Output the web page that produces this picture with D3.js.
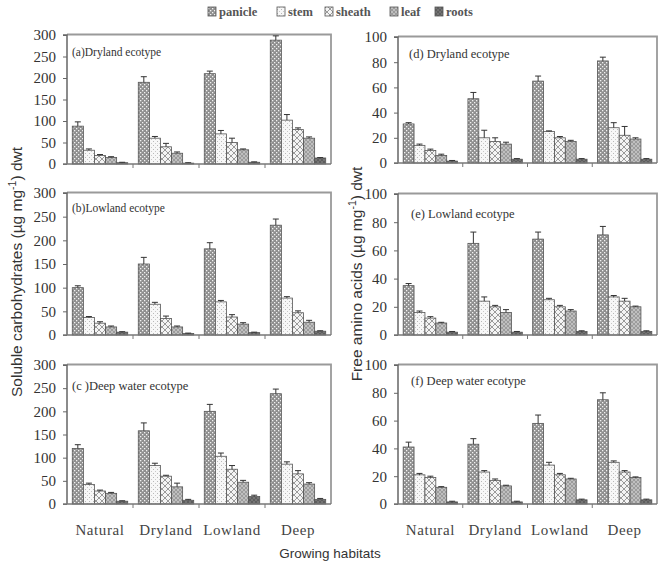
<!DOCTYPE html>
<html><head><meta charset="utf-8">
<script src="https://cdn.jsdelivr.net/npm/d3@7"></script>
<style>
html,body{margin:0;padding:0;background:#fff;}
svg{display:block;}
</style></head>
<body>
<svg id="chart" width="658" height="562"></svg>
<script>
const categories = ["Natural", "Dryland", "Lowland", "Deep"];
const seriesNames = ["panicle", "stem", "sheath", "leaf", "roots"];

const carbTicks = [0, 50, 100, 150, 200, 250, 300];
const aminoTicks = [0, 20, 40, 60, 80, 100];

// Soluble carbohydrates — rows = categories, cols = series
const carbDryland = [[88, 32, 20, 15, 3], [190, 60, 40, 25, 2], [210, 70, 50, 33, 4], [288, 102, 80, 60, 14]];
const carbDrylandErr = [[10, 3, 2, 2, 1], [13, 4, 8, 3, 1], [6, 8, 10, 2, 1], [10, 13, 4, 3, 1]];
const carbLowland = [[100, 37, 25, 17, 6], [150, 65, 35, 17, 3], [182, 70, 38, 23, 5], [232, 78, 47, 27, 8]];
const carbLowlandErr = [[4, 2, 3, 2, 1], [14, 4, 5, 2, 1], [13, 3, 5, 3, 1], [13, 3, 4, 4, 1]];
const carbDeep = [[120, 42, 28, 23, 6], [158, 83, 60, 37, 8], [200, 103, 75, 47, 16], [238, 86, 65, 43, 10]];
const carbDeepErr = [[8, 3, 2, 2, 1], [17, 5, 2, 8, 2], [15, 7, 8, 4, 3], [10, 5, 7, 3, 2]];

// Free amino acids
const aminoDryland = [[31, 14, 10, 6, 1.5], [51, 20, 17, 15, 3], [65, 25, 20, 17, 3], [81, 28, 22, 19, 3]];
const aminoDrylandErr = [[1, 1, 1, 1, 0.5], [5, 6, 3, 1.5, 0.5], [4, 0.5, 1, 1, 0.5], [3, 4, 7, 1, 0.5]];
const aminoLowland = [[35, 16, 12, 8.5, 2], [65, 24, 20, 16, 2], [68, 25, 20, 17, 2.5], [71, 27, 24, 20, 2.5]];
const aminoLowlandErr = [[1.5, 1, 1, 0.5, 0.5], [8, 3, 1, 2, 0.5], [5, 1, 1, 1, 0.5], [6, 1, 2, 0.5, 0.5]];
const aminoDeep = [[41, 21, 19, 12, 1.5], [43, 23, 17, 13, 1.5], [58, 28, 21, 18, 3], [75, 30, 23, 19, 3]];
const aminoDeepErr = [[3.5, 1, 1, 0.5, 0.5], [4, 1, 1, 0.5, 0.5], [6, 2, 1, 0.5, 0.5], [5, 1, 1, 0.5, 0.5]];

const svg = d3.select("#chart");
const defs = svg.append("defs");

// patterns
function mkPattern(id, size, bg, drawFn) {
  const p = defs.append("pattern").attr("id", id).attr("patternUnits", "userSpaceOnUse")
    .attr("width", size).attr("height", size);
  p.append("rect").attr("width", size).attr("height", size).attr("fill", bg);
  drawFn(p);
}
mkPattern("p-panicle", 4, "#8f8f8f", p => {
  p.append("rect").attr("x", 0).attr("y", 0).attr("width", 1.3).attr("height", 1.3).attr("fill", "#f2f2f2");
  p.append("rect").attr("x", 2).attr("y", 2).attr("width", 1.3).attr("height", 1.3).attr("fill", "#f2f2f2");
});
mkPattern("p-stem", 4, "#f7f7f7", p => {
  p.append("rect").attr("x", 1).attr("y", 1).attr("width", 1).attr("height", 1).attr("fill", "#b8b8b8");
  p.append("rect").attr("x", 3).attr("y", 3).attr("width", 1).attr("height", 1).attr("fill", "#c8c8c8");
});
mkPattern("p-sheath", 6, "#f4f4f4", p => {
  p.append("path").attr("d", "M3,0 L6,3 L3,6 L0,3 Z").attr("fill", "none").attr("stroke", "#9a9a9a").attr("stroke-width", 1);
});
mkPattern("p-leaf", 4, "#9c9c9c", p => {
  p.append("path").attr("d", "M0,0 L4,4 M4,0 L0,4").attr("stroke", "#c8c8c8").attr("stroke-width", 0.8);
});
mkPattern("p-roots", 4, "#5e5e5e", p => {
  p.append("path").attr("d", "M0,0 L4,4 M4,0 L0,4").attr("stroke", "#7a7a7a").attr("stroke-width", 0.8);
});
const fills = seriesNames.map(s => "url(#p-" + s + ")");

const panels = [
  { x0: 67, x1: 331, y0: 35, y1: 164, max: 300, ticks: carbTicks, data: carbDryland, err: carbDrylandErr, title: "(a)Dryland ecotype", tx: 72, ty: 56, fs: 11.5 },
  { x0: 67, x1: 331, y0: 193, y1: 335, max: 300, ticks: carbTicks, data: carbLowland, err: carbLowlandErr, title: "(b)Lowland ecotype", tx: 72, ty: 212, fs: 11.5 },
  { x0: 67, x1: 331, y0: 365, y1: 504, max: 300, ticks: carbTicks, data: carbDeep, err: carbDeepErr, title: "(c )Deep water ecotype", tx: 72, ty: 390, fs: 12.5 },
  { x0: 398, x1: 657, y0: 37, y1: 163, max: 100, ticks: aminoTicks, data: aminoDryland, err: aminoDrylandErr, title: "(d) Dryland ecotype", tx: 409, ty: 58, fs: 12.5 },
  { x0: 398, x1: 657, y0: 194, y1: 335, max: 100, ticks: aminoTicks, data: aminoLowland, err: aminoLowlandErr, title: "(e) Lowland ecotype", tx: 411, ty: 218, fs: 12.5 },
  { x0: 398, x1: 657, y0: 365, y1: 504, max: 100, ticks: aminoTicks, data: aminoDeep, err: aminoDeepErr, title: "(f) Deep water ecotype", tx: 411, ty: 385, fs: 12.5 }
];

const bottomPanels = [2, 5];

panels.forEach((pn, idx) => {
  const g = svg.append("g");
  const x = d3.scaleBand().domain(categories).range([pn.x0, pn.x1]).paddingInner(0.16).paddingOuter(0.08);
  const xs = d3.scaleBand().domain(seriesNames).range([0, x.bandwidth()]).padding(0);
  const y = d3.scaleLinear().domain([0, pn.max]).range([pn.y1, pn.y0]);

  // frame (top & right)
  g.append("path")
    .attr("d", `M${pn.x0},${pn.y0 - 0.5} H${pn.x1} V${pn.y1}`)
    .attr("fill", "none").attr("stroke", "#9a9a9a").attr("stroke-width", 1.8);

  // bars
  categories.forEach((c, ci) => {
    seriesNames.forEach((s, si) => {
      const v = pn.data[ci][si];
      const e = pn.err[ci][si];
      const bx = x(c) + xs(s);
      g.append("rect")
        .attr("x", bx).attr("y", y(v))
        .attr("width", xs.bandwidth()).attr("height", y(0) - y(v))
        .attr("fill", fills[si]).attr("stroke", "#555").attr("stroke-width", 0.8);
      const cx = bx + xs.bandwidth() / 2;
      g.append("line").attr("x1", cx).attr("x2", cx).attr("y1", y(v)).attr("y2", y(v + e))
        .attr("stroke", "#333").attr("stroke-width", 1);
      g.append("line").attr("x1", cx - 3).attr("x2", cx + 3).attr("y1", y(v + e)).attr("y2", y(v + e))
        .attr("stroke", "#333").attr("stroke-width", 1);
    });
  });

  // y axis
  const ya = g.append("g").attr("transform", `translate(${pn.x0},0)`)
    .call(d3.axisLeft(y).tickValues(pn.ticks).tickSize(4).tickPadding(7).tickFormat(d3.format("d")));
  ya.select(".domain").attr("stroke", "#666").attr("stroke-width", 1.5).attr("d", `M-4,${pn.y0}H0V${pn.y1}`);
  ya.selectAll(".tick line").attr("stroke", "#666");
  ya.selectAll("text").attr("font-family", "Liberation Serif, serif").attr("font-size", 15).attr("fill", "#333");

  // x axis
  const xa = g.append("g").attr("transform", `translate(0,${pn.y1})`);
  xa.append("line").attr("x1", pn.x0 - 4).attr("x2", pn.x1).attr("y1", 0).attr("y2", 0)
    .attr("stroke", "#777").attr("stroke-width", 1.5);
  const step = x.step();
  categories.forEach((c, ci) => {
    const tx = x(c) - x.paddingInner() * step / 2;
    if (ci > 0) xa.append("line").attr("x1", tx).attr("x2", tx).attr("y1", 0).attr("y2", 4).attr("stroke", "#777");
  });
  if (bottomPanels.includes(idx)) {
    categories.forEach(c => {
      xa.append("text").attr("x", x(c) + x.bandwidth() / 2).attr("y", 31)
        .attr("text-anchor", "middle").attr("font-family", "Liberation Serif, serif")
        .attr("font-size", 15).attr("letter-spacing", 0.6).attr("fill", "#444").text(c);
    });
  }

  // panel title
  g.append("text").attr("x", pn.tx).attr("y", pn.ty).attr("font-family", "Liberation Serif, serif")
    .attr("font-size", pn.fs).attr("fill", "#333").text(pn.title);
});

// y titles
const yt1 = svg.append("text").attr("transform", "translate(22,272) rotate(-90)")
  .attr("text-anchor", "middle").attr("font-family", "Liberation Sans, Arial, sans-serif")
  .attr("font-size", 15.5).attr("fill", "#333");
yt1.append("tspan").text("Soluble carbohydrates (µg mg");
yt1.append("tspan").attr("dy", -6).attr("font-size", 10.5).text("-1");
yt1.append("tspan").attr("dy", 6).text(") dwt");

const yt2 = svg.append("text").attr("transform", "translate(362,274) rotate(-90)")
  .attr("text-anchor", "middle").attr("font-family", "Liberation Sans, Arial, sans-serif")
  .attr("font-size", 15.5).attr("fill", "#333");
yt2.append("tspan").text("Free amino acids (µg mg");
yt2.append("tspan").attr("dy", -6).attr("font-size", 10.5).text("-1");
yt2.append("tspan").attr("dy", 6).text(") dwt");

// x title
svg.append("text").attr("x", 330).attr("y", 558).attr("text-anchor", "middle")
  .attr("font-family", "Liberation Sans, Arial, sans-serif").attr("font-size", 13.5)
  .attr("fill", "#333").text("Growing habitats");

// legend
const legendX = [208, 277, 325, 390, 435];
const lg = svg.append("g");
seriesNames.forEach((s, i) => {
  lg.append("rect").attr("x", legendX[i]).attr("y", 7).attr("width", 8).attr("height", 9)
    .attr("fill", fills[i]).attr("stroke", "#555").attr("stroke-width", 0.8);
  lg.append("text").attr("x", legendX[i] + 11).attr("y", 15.5)
    .attr("font-family", "Liberation Serif, serif").attr("font-size", 12.5).attr("font-weight", "bold")
    .attr("fill", "#555").text(s);
});
</script>
</body></html>
